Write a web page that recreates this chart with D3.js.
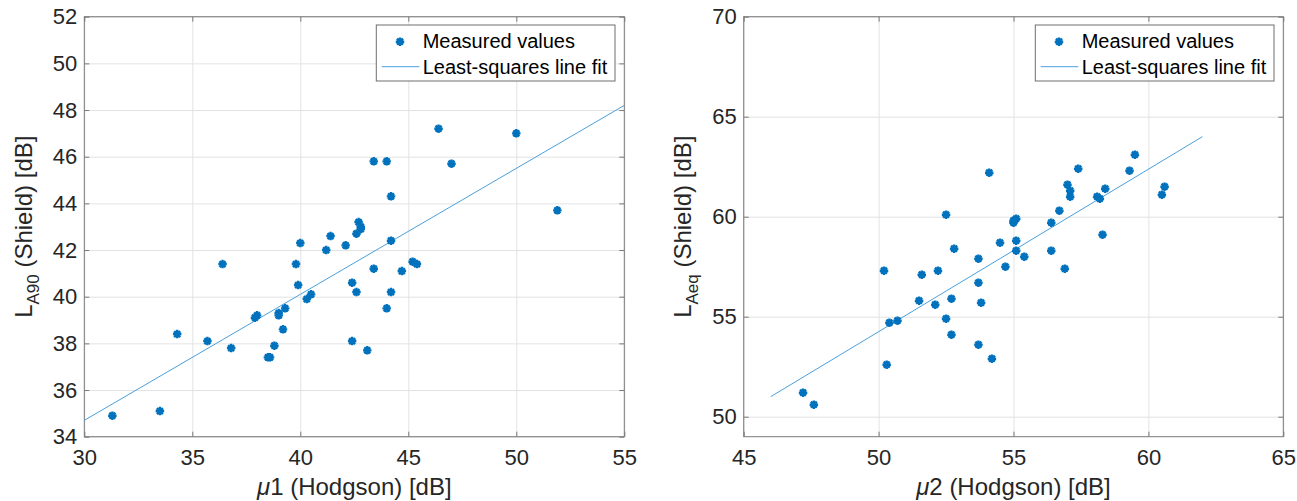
<!DOCTYPE html>
<meta charset="utf-8">
<head>
    <style>
        body { margin: 0; background: #fff; }
        svg { display: block; font-family: "Liberation Sans", Arial, sans-serif; }
        .tick text { fill: #262626; }
    </style>
</head>
<script src="https://d3js.org/d3.v7.min.js"></script>
<div id="my_dataviz"></div>
<script>

    // left panel: mu1 (Hodgson) vs LA90 (Shield)
    var mu1 = [31.3, 33.5, 34.3, 35.7, 36.4, 36.8, 37.9, 38.0, 38.5, 38.6, 38.8, 39.0, 39.0, 39.2, 39.3,
               39.8, 39.9, 40.0, 40.3, 40.5, 41.2, 41.4, 42.1, 42.4, 42.4, 42.6, 42.7, 42.8, 42.8, 42.6,
               43.1, 43.4, 43.4, 44.0, 44.0, 44.2, 44.2, 44.2, 44.7, 45.2, 45.4, 46.4, 47.0, 50.0, 51.9];
    var la90 = [34.9, 35.1, 38.4, 38.1, 41.4, 37.8, 39.1, 39.2, 37.4, 37.4, 37.9, 39.3, 39.2, 38.6, 39.5,
                41.4, 40.5, 42.3, 39.9, 40.1, 42.0, 42.6, 42.2, 40.6, 38.1, 40.2, 43.2, 43.0, 42.9, 42.7,
                37.7, 45.8, 41.2, 45.8, 39.5, 44.3, 42.4, 40.2, 41.1, 41.5, 41.4, 47.2, 45.7, 47.0, 43.7];
    var fit1X = [30, 55];
    var fit1Y = [34.7, 48.2];

    // right panel: mu2 (Hodgson) vs LAeq (Shield)
    var mu2 = [47.2, 47.6, 50.2, 50.3, 50.4, 50.7, 51.5, 51.6, 52.1, 52.2, 52.5, 52.7, 52.7, 52.5, 52.8,
               53.7, 53.7, 53.8, 53.7, 54.2, 54.7, 54.5, 55.1, 55.1, 55.4, 56.4, 56.9, 54.1, 55.0, 55.0,
               55.1, 56.4, 56.7, 57.0, 57.1, 57.1, 57.4, 58.1, 58.2, 58.4, 58.3, 59.3, 59.5, 60.5, 60.6];
    var laeq = [51.2, 50.6, 57.3, 52.6, 54.7, 54.8, 55.8, 57.1, 55.6, 57.3, 54.9, 54.1, 55.9, 60.1, 58.4,
                57.9, 56.7, 55.7, 53.6, 52.9, 57.5, 58.7, 58.8, 58.3, 58.0, 58.3, 57.4, 62.2, 59.7, 59.8,
                59.9, 59.7, 60.3, 61.6, 61.3, 61.0, 62.4, 61.0, 60.9, 61.4, 59.1, 62.3, 63.1, 61.1, 61.5];
    var fit2X = [46, 62];
    var fit2Y = [51.0, 64.0];

    var xTicks1 = [30, 35, 40, 45, 50, 55];
    var yTicks1 = [34, 36, 38, 40, 42, 44, 46, 48, 50, 52];
    var xTicks2 = [45, 50, 55, 60, 65];
    var yTicks2 = [50, 55, 60, 65, 70];

    var legendLabels = ["Measured values", "Least-squares line fit"];

    var markerColor = "#0072bd",
        fitColor = "#4aa0de";

    var svg = d3.select("#my_dataviz")
      .append("svg")
        .attr("width", 1297)
        .attr("height", 501);

    // MATLAB '*' marker: plus and cross
    var star = {
      draw: function(ctx, size) {
        var r = Math.sqrt(size) / 2, d = r * 0.7071;
        ctx.moveTo(-r, 0); ctx.lineTo(r, 0);
        ctx.moveTo(0, -r); ctx.lineTo(0, r);
        ctx.moveTo(-d, -d); ctx.lineTo(d, d);
        ctx.moveTo(-d, d); ctx.lineTo(d, -d);
      }
    };
    var markerSize = 72, markerStroke = 2.4;

    function panel(opt) {
      var g = svg.append("g");
      var width = opt.x1 - opt.x0, height = 420, top = 16.7;

      var x = d3.scaleLinear().domain(opt.xDomain).range([opt.x0, opt.x1]);
      var y = d3.scaleLinear().domain(opt.yDomain).range([top + height, top]);

      // grid
      g.append("g")
        .attr("transform", "translate(0," + (top + height) + ")")
        .call(d3.axisBottom(x).tickValues(opt.xTicks).tickSize(-height).tickFormat(""))
        .call(function(a) { a.select(".domain").remove(); a.selectAll("line").attr("stroke", "#e3e3e3"); });
      g.append("g")
        .attr("transform", "translate(" + opt.x0 + ",0)")
        .call(d3.axisLeft(y).tickValues(opt.yTicks).tickSize(-width).tickFormat(""))
        .call(function(a) { a.select(".domain").remove(); a.selectAll("line").attr("stroke", "#e3e3e3"); });

      // axes with inward ticks
      var tickCol = "#7a7a7a";
      g.append("g")
        .attr("transform", "translate(0," + (top + height) + ")")
        .call(d3.axisBottom(x).tickValues(opt.xTicks).tickSize(-5).tickPadding(13))
        .call(function(a) {
          a.select(".domain").remove();
          a.selectAll("line").attr("stroke", tickCol);
          a.selectAll("text").attr("font-size", 22).attr("font-family", "Liberation Sans, Arial, sans-serif");
        });
      g.append("g")
        .attr("transform", "translate(" + opt.x0 + ",0)")
        .call(d3.axisLeft(y).tickValues(opt.yTicks).tickSize(-5).tickPadding(7))
        .call(function(a) {
          a.select(".domain").remove();
          a.selectAll("line").attr("stroke", tickCol);
          a.selectAll("text").attr("font-size", 22).attr("font-family", "Liberation Sans, Arial, sans-serif");
        });
      g.append("g")
        .attr("transform", "translate(0," + top + ")")
        .call(d3.axisTop(x).tickValues(opt.xTicks).tickSize(-5).tickFormat(""))
        .call(function(a) { a.select(".domain").remove(); a.selectAll("line").attr("stroke", tickCol); });
      g.append("g")
        .attr("transform", "translate(" + opt.x1 + ",0)")
        .call(d3.axisRight(y).tickValues(opt.yTicks).tickSize(-5).tickFormat(""))
        .call(function(a) { a.select(".domain").remove(); a.selectAll("line").attr("stroke", tickCol); });

      g.append("rect")
        .attr("x", opt.x0).attr("y", top)
        .attr("width", width).attr("height", height)
        .attr("fill", "none")
        .attr("stroke", tickCol)
        .attr("stroke-width", 1);

      // fit line
      var line = d3.line().x(function(d) { return x(d[0]); }).y(function(d) { return y(d[1]); });
      g.append("path")
        .datum(d3.zip(opt.fitX, opt.fitY))
        .attr("d", line)
        .attr("fill", "none")
        .attr("stroke", fitColor)
        .attr("stroke-width", 1);

      // points
      g.selectAll(".pt")
        .data(d3.zip(opt.xs, opt.ys))
        .enter()
        .append("path")
          .attr("class", "pt")
          .attr("transform", function(d) { return "translate(" + x(d[0]) + "," + y(d[1]) + ")"; })
          .attr("d", d3.symbol(star, markerSize))
          .attr("fill", "none")
          .attr("stroke", markerColor)
          .attr("stroke-width", markerStroke);

      // x label
      var xl = g.append("text")
        .attr("x", (opt.x0 + opt.x1) / 2)
        .attr("y", 495)
        .attr("text-anchor", "middle")
        .attr("font-size", 24)
        .attr("fill", "#262626");
      xl.append("tspan").attr("font-style", "italic").text("\u03bc");
      xl.append("tspan").text(opt.xLabel);

      // y label
      var yl = g.append("text")
        .attr("transform", "translate(" + (opt.x0 - 52.3) + "," + (top + height / 2) + ") rotate(-90)")
        .attr("text-anchor", "middle")
        .attr("font-size", 24)
        .attr("fill", "#262626");
      yl.append("tspan").text("L");
      yl.append("tspan").attr("font-size", 17).attr("dy", 7).text(opt.ySub);
      yl.append("tspan").attr("dy", -7).text(" (Shield) [dB]");

      // legend
      var bw = 238.7, bh = 56, bx = opt.x1 - 9.3 - bw, by = 25;
      var lg = g.append("g");
      lg.append("rect")
        .attr("x", bx).attr("y", by)
        .attr("width", bw).attr("height", bh)
        .attr("fill", "#fff")
        .attr("stroke", "#6e6e6e")
        .attr("stroke-width", 1);
      lg.append("path")
        .attr("transform", "translate(" + (bx + 23.7) + "," + (by + 16.7) + ")")
        .attr("d", d3.symbol(star, markerSize))
        .attr("fill", "none")
        .attr("stroke", markerColor)
        .attr("stroke-width", markerStroke);
      lg.append("line")
        .attr("x1", bx + 5.4).attr("x2", bx + 43)
        .attr("y1", by + 41.7).attr("y2", by + 41.7)
        .attr("stroke", fitColor)
        .attr("stroke-width", 1);
      lg.selectAll(".lt")
        .data(legendLabels)
        .enter()
        .append("text")
          .attr("x", bx + 46.4)
          .attr("y", function(d, i) { return by + 23.3 + i * 25.7; })
          .attr("font-size", 20)
          .attr("fill", "#000")
          .text(function(d) { return d; });
    }

    panel({x0: 84.3, x1: 624.3, xDomain: [30, 55], yDomain: [34, 52],
           xTicks: xTicks1, yTicks: yTicks1, xs: mu1, ys: la90, fitX: fit1X, fitY: fit1Y,
           xLabel: "1 (Hodgson) [dB]", ySub: "A90"});
    panel({x0: 743.7, x1: 1283.3, xDomain: [45, 65], yDomain: [49, 70],
           xTicks: xTicks2, yTicks: yTicks2, xs: mu2, ys: laeq, fitX: fit2X, fitY: fit2Y,
           xLabel: "2 (Hodgson) [dB]", ySub: "Aeq"});
</script>
